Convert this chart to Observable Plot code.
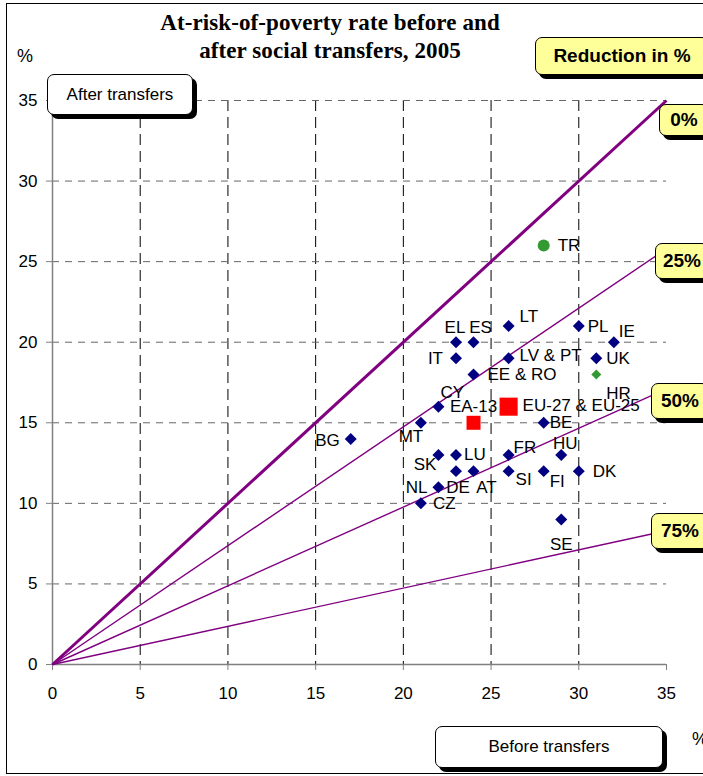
<!DOCTYPE html>
<html>
<head>
<meta charset="utf-8">
<script src="https://cdn.jsdelivr.net/npm/d3@7"></script>
<script src="https://cdn.jsdelivr.net/npm/@observablehq/plot@0.6"></script>
<style>
  body { margin: 0; background: #fff; }
  #wrap { position: relative; width: 703px; height: 776px; overflow: hidden; font-family: "Liberation Sans", Arial, sans-serif; color: #000; }
  #chart { position: absolute; left: 0; top: 0; }
  .frame { position: absolute; left: 6px; top: 3px; width: 760px; height: 771px; border: 1.5px solid #000; box-sizing: border-box; }
  .title { position: absolute; left: 130px; width: 400px; text-align: center; font-family: "Liberation Serif", "Times New Roman", serif; font-weight: bold; font-size: 23px; line-height: 28px; top: 9px; letter-spacing: 0.1px; }
  .box { position: absolute; border: 1px solid #000; border-radius: 7px; box-shadow: 4px 4px 0 #000; display: flex; align-items: center; justify-content: center; box-sizing: border-box; white-space: nowrap; }
  .white { background: #fff; font-size: 17px; }
  .yellow { background: #ffff99; font-weight: bold; font-size: 19px; }
  .pct { position: absolute; font-size: 18px; }
</style>
</head>
<body>
<div id="wrap">
  <div class="frame"></div>
  <div id="chart"></div>
</div>
<script>
// ---- data ----
const countries = ["TR","LT","EL","ES","IT","LV & PT","PL","IE","UK","HR","EE & RO","CY","EA-13","EU-27 & EU-25","MT","BE","BG","SK","LU","FR","HU","DE","AT","SI","FI","DK","NL","CZ","SE"];
const beforeTransfers = [28,26,23,24,23,26,30,32,31,31,24,22,24,26,21,28,17,22,23,26,29,23,24,26,28,30,22,21,29];
const afterTransfers  = [26,21,20,20,19,19,21,20,19,18,18,16,15,16,15,15,14,13,13,13,13,12,12,12,12,12,11,10,9];
const series = ["Candidate TR","EU","EU","EU","EU","EU","EU","EU","EU","Candidate HR","EU","EU","Aggregate","Aggregate","EU","EU","EU","EU","EU","EU","EU","EU","EU","EU","EU","EU","EU","EU","EU"];

const reductionLabels = ["0%","25%","50%","75%"];
const reductionEndX = [35,35,35,35];
const reductionEndY = [35,25.8,17.1,8.3];

const xTicks = [0,5,10,15,20,25,30,35];
const yTicks = [0,5,10,15,20,25,30,35];

const titleLines = ["At-risk-of-poverty rate before and","after social transfers, 2005"];

// ---- build tables ----
const points = countries.map((c, i) => ({name: c, before: beforeTransfers[i], after: afterTransfers[i], series: series[i]}));
const reductions = reductionLabels.map((l, i) => ({label: l, x2: reductionEndX[i], y2: reductionEndY[i]}));

// label placement (style): [dx, dy, anchor]
const labelPlacement = {
  "TR":[14,0,"start"], "LT":[11,-10,"start"], "EL":[-1,-15,"middle"], "ES":[7,-15,"middle"],
  "IT":[-13,0,"end"], "LV & PT":[11,-3,"start"], "PL":[9,0,"start"], "IE":[5,-11,"start"],
  "UK":[10,0,"start"], "HR":[10,19,"start"], "EE & RO":[14,0,"start"], "CY":[2,-14,"start"],
  "EA-13":[0,-16,"middle"], "EU-27 & EU-25":[14,-1,"start"], "MT":[-10,14,"middle"], "BE":[6,0,"start"],
  "BG":[-11,2,"end"], "SK":[-2,10,"end"], "LU":[8,0,"start"], "FR":[5,-7,"start"],
  "HU":[4,-11,"middle"], "DE":[2,16,"middle"], "AT":[13,16,"middle"], "SI":[7,8,"start"],
  "FI":[6,10,"start"], "DK":[14,0,"start"], "NL":[-11,0,"end"], "CZ":[12,0,"start"], "SE":[0,25,"middle"]
};

const labelMarks = points.map(p => {
  const [dx, dy, anchor] = labelPlacement[p.name];
  return Plot.text([p], {x: "before", y: "after", text: "name", dx, dy, textAnchor: anchor, fill: "#000", fontSize: 17});
});

const chart = Plot.plot({
  width: 703,
  height: 776,
  marginLeft: 52,
  marginRight: 37,
  marginTop: 100,
  marginBottom: 112,
  x: {domain: [0, 35]},
  y: {domain: [0, 35]},
  style: {fontFamily: "'Liberation Sans', Arial, sans-serif", background: "transparent", color: "#000"},
  marks: [
    Plot.gridX(xTicks.filter(t => t > 0 && t < 35), {stroke: "#000", strokeOpacity: 1, strokeDasharray: "11,6"}),
    Plot.gridY(yTicks.filter(t => t > 0), {stroke: "#666", strokeOpacity: 1, strokeDasharray: "7,6"}),
    Plot.ruleX([0], {stroke: "#808080", strokeWidth: 1.5}),
    Plot.ruleY([0], {stroke: "#808080", strokeWidth: 1.5}),
    Plot.axisX(xTicks, {tickSize: 6, tickPadding: 16, fontSize: 17, stroke: "#808080", fill: "#000", label: null, tickFormat: d => String(d)}),
    Plot.axisY(yTicks, {tickSize: 6, tickPadding: 9, fontSize: 17, stroke: "#808080", fill: "#000", label: null, tickFormat: d => String(d)}),
    Plot.link(reductions, {x1: () => 0, y1: () => 0, x2: "x2", y2: "y2", stroke: "#800080", strokeWidth: d => d.label === "0%" ? 3 : 1.4}),
    Plot.dot(points.filter(d => d.series === "EU"), {x: "before", y: "after", symbol: "diamond2", r: 5.4, fill: "#000080", stroke: "none"}),
    Plot.dot(points.filter(d => d.series === "Candidate HR"), {x: "before", y: "after", symbol: "diamond2", r: 4.5, fill: "#339933", stroke: "none"}),
    Plot.dot(points.filter(d => d.series === "Candidate TR"), {x: "before", y: "after", symbol: "circle", r: 6, fill: "#339933", stroke: "none"}),
    Plot.dot(points.filter(d => d.name === "EA-13"), {x: "before", y: "after", symbol: "square", r: 7.9, fill: "#ff0000", stroke: "none"}),
    Plot.dot(points.filter(d => d.name === "EU-27 & EU-25"), {x: "before", y: "after", symbol: "square", r: 10.2, fill: "#ff0000", stroke: "none"}),
    ...labelMarks
  ]
});
document.getElementById("chart").appendChild(chart);

// ---- overlay texts ----
const wrap = document.getElementById("wrap");
function addDiv(cls, text, css) {
  const d = document.createElement("div");
  d.className = cls;
  d.textContent = text;
  Object.assign(d.style, css);
  wrap.appendChild(d);
  return d;
}
const t = document.createElement("div");
t.className = "title";
t.innerHTML = titleLines.map(s => `<div>${s}</div>`).join("");
wrap.appendChild(t);

addDiv("pct", "%", {left: "17px", top: "46px"});
addDiv("pct", "%", {left: "692px", top: "729px"});
addDiv("box white", "After transfers", {left: "47px", top: "74px", width: "146px", height: "41px"});
addDiv("box white", "Before transfers", {left: "435px", top: "726px", width: "228px", height: "42px"});
addDiv("box yellow", "Reduction in %", {left: "535px", top: "37px", width: "174px", height: "38px"});
const boxTops = [104, 243, 383, 513];
const boxLefts = [659, 655, 651, 651];
reductionLabels.forEach((l, i) => {
  addDiv("box yellow", l, {left: boxLefts[i] + "px", top: boxTops[i] + "px", width: (709 - boxLefts[i]) + "px", height: (i === 0 ? 32 : 36) + "px"});
});
</script>
</body>
</html>
